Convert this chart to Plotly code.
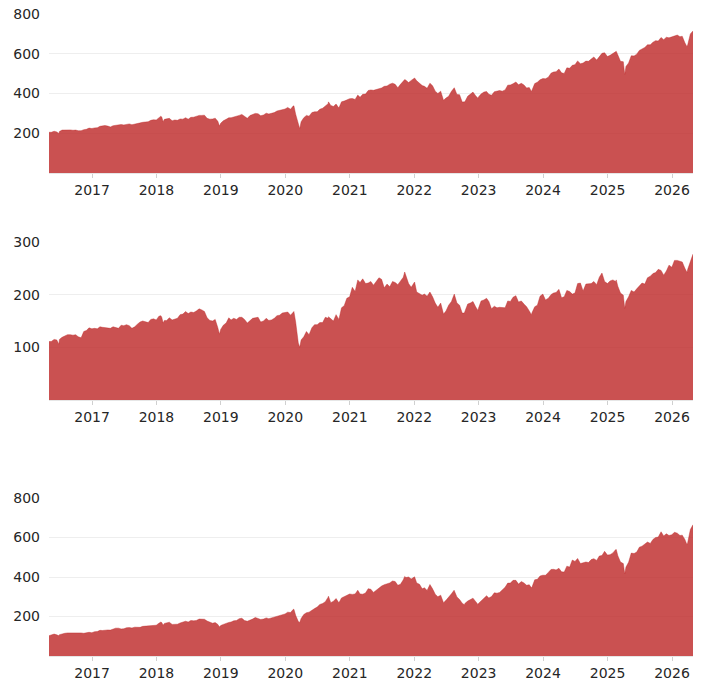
import pandas as pd
import plotly.graph_objects as go

# ---- data -------------------------------------------------------------
month_ends = pd.date_range("2016-05-31", periods=120, freq="ME")
mid_months = pd.date_range("2016-05-01", periods=120, freq="MS") + pd.Timedelta(days=14)

spy_monthly = [
    210, 209, 217, 217, 216, 213, 220, 224,
    228, 237, 236, 238, 241, 242, 247, 247, 252, 257, 265, 267,
    282, 271, 263, 265, 271, 271, 281, 290, 291, 271, 276, 250,
    270, 278, 283, 295, 275, 293, 298, 292, 297, 304, 315, 322,
    321, 296, 258, 290, 304, 308, 326, 349, 335, 327, 362, 374,
    370, 381, 397, 418, 420, 428, 438, 452, 429, 459, 455, 475,
    450, 436, 452, 412, 412, 377, 411, 395, 357, 386, 407, 382,
    407, 396, 409, 415, 418, 443, 458, 451, 428, 418, 457, 475,
    482, 508, 523, 501, 527, 545, 550, 563, 573, 568, 602, 586,
    601, 594, 560, 554, 589, 617, 632, 645, 666, 682, 683, 685,
    694, 688, 645, 715,
]
spy_mid = [
    205, 207, 216, 219, 215, 213, 218, 226,
    227, 235, 239, 232, 240, 244, 246, 243, 250, 255, 258, 268,
    280, 270, 275, 267, 272, 278, 280, 285, 290, 275, 272, 260,
    263, 278, 282, 290, 285, 289, 300, 288, 301, 300, 312, 318,
    330, 337, 240, 278, 286, 308, 321, 337, 340, 347, 358, 369,
    375, 392, 396, 415, 416, 424, 436, 447, 446, 446, 467, 466,
    464, 440, 426, 439, 400, 370, 386, 427, 394, 358, 399, 389,
    398, 410, 391, 412, 412, 442, 449, 444, 443, 430, 450, 469,
    474, 502, 510, 504, 529, 542, 564, 553, 562, 584, 585, 605,
    592, 610, 562, 536, 590, 598, 624, 645, 658, 664, 671, 680,
    692, 686, 655, 700,
]
iwm_monthly = [
    115, 115, 121, 124, 124, 118, 132, 135,
    135, 138, 137, 139, 136, 141, 141, 139, 148, 149, 153, 152,
    157, 151, 152, 155, 163, 164, 166, 173, 168, 151, 153, 134,
    146, 152, 153, 157, 146, 155, 157, 150, 151, 155, 161, 166,
    161, 148, 114, 130, 137, 143, 147, 155, 150, 153, 179, 196,
    206, 223, 221, 225, 226, 229, 220, 225, 219, 233, 221, 222,
    201, 201, 205, 184, 184, 169, 187, 184, 165, 182, 187, 174,
    190, 187, 178, 176, 175, 187, 198, 188, 177, 166, 180, 201,
    193, 203, 210, 196, 206, 203, 222, 220, 221, 219, 241, 221,
    228, 216, 199, 196, 205, 216, 220, 235, 242, 246, 245, 252,
    265, 262, 248, 277,
]
iwm_mid = [
    111, 114, 119, 124, 123, 120, 130, 137,
    136, 139, 137, 136, 137, 142, 143, 136, 144, 150, 147, 154,
    159, 151, 156, 154, 162, 168, 167, 169, 171, 156, 150, 137,
    142, 156, 155, 157, 153, 151, 156, 148, 155, 152, 160, 165,
    167, 168, 108, 120, 124, 143, 147, 157, 154, 162, 175, 193,
    214, 228, 230, 222, 218, 232, 213, 215, 223, 226, 237, 214,
    205, 199, 197, 196, 176, 166, 180, 198, 180, 168, 184, 177,
    188, 193, 173, 175, 176, 188, 195, 186, 182, 169, 177, 197,
    190, 200, 204, 194, 208, 201, 221, 207, 220, 225, 233, 225,
    226, 225, 203, 187, 208, 211, 222, 232, 240, 248, 237, 256,
    265, 263, 250, 262,
]
qqq_monthly = [
    111, 108, 115, 117, 119, 117, 117, 118,
    124, 129, 132, 136, 141, 138, 144, 146, 145, 152, 155, 156,
    169, 167, 160, 161, 171, 172, 178, 187, 186, 170, 169, 154,
    167, 172, 180, 191, 176, 187, 191, 187, 189, 197, 205, 213,
    220, 206, 190, 219, 233, 248, 266, 298, 277, 269, 300, 314,
    314, 314, 319, 338, 333, 354, 364, 380, 358, 386, 400, 398,
    363, 345, 362, 313, 308, 282, 315, 299, 267, 278, 293, 266,
    295, 294, 320, 322, 348, 369, 383, 377, 358, 350, 388, 409,
    423, 439, 444, 425, 450, 479, 468, 476, 488, 484, 509, 511,
    522, 508, 468, 475, 519, 551, 565, 570, 600, 629, 619, 614,
    622, 612, 575, 665,
]
qqq_mid = [
    107, 107, 113, 117, 117, 118, 115, 120,
    123, 130, 132, 131, 141, 137, 143, 142, 145, 150, 154, 157,
    166, 165, 171, 160, 167, 176, 180, 180, 185, 177, 166, 160,
    160, 170, 178, 189, 180, 180, 195, 185, 193, 193, 204, 210,
    222, 236, 175, 210, 222, 240, 261, 275, 270, 291, 294, 310,
    312, 333, 313, 341, 322, 346, 361, 370, 377, 363, 397, 390,
    370, 340, 332, 340, 300, 272, 296, 333, 286, 266, 287, 276,
    278, 305, 301, 318, 336, 369, 383, 364, 370, 361, 386, 405,
    409, 438, 436, 426, 455, 486, 494, 471, 473, 493, 506, 530,
    513, 538, 476, 450, 521, 526, 556, 577, 590, 602, 608, 610,
    626, 610, 590, 640,
]

event_dates = [
    "2016-05-02", "2016-06-27", "2018-01-26", "2018-02-08", "2018-12-24",
    "2020-02-19", "2020-03-23", "2020-09-02", "2021-11-08", "2022-01-03",
    "2022-06-16", "2022-08-16", "2022-10-12", "2022-12-28", "2023-10-27",
    "2025-02-19", "2025-04-08", "2026-03-27",
]
spy_events = [205, 199, 286, 258, 236, 338, 223, 358, 470, 478, 366, 429, 357, 376, 410, 612, 496, 635]
iwm_events = [111, 106, 160, 146, 125, 168, 100, 158, 243, 224, 163, 201, 165, 170, 162, 228, 174, 242]
qqq_events = [103, 103, 172, 156, 147, 237, 170, 303, 403, 401, 270, 330, 260, 261, 345, 539, 416, 563]

y_ranges = [[0, 800], [0, 300], [0, 800]]
y_ticks = [[200, 400, 600, 800], [100, 200, 300], [200, 400, 600, 800]]

# ---- build table -------------------------------------------------------
monthly = pd.DataFrame({"date": month_ends, "spy": spy_monthly, "iwm": iwm_monthly, "qqq": qqq_monthly})
mid = pd.DataFrame({"date": mid_months, "spy": spy_mid, "iwm": iwm_mid, "qqq": qqq_mid})
events = pd.DataFrame({"date": pd.to_datetime(event_dates), "spy": spy_events, "iwm": iwm_events, "qqq": qqq_events})
df = pd.concat([monthly, mid, events]).sort_values("date").reset_index(drop=True)

fill = "rgba(189,38,38,0.8)"
domains = [[0.7523, 1.0], [0.3988, 0.6449], [0.0, 0.2461]]
cols = ["spy", "iwm", "qqq"]

fig = go.Figure()
layout = {}
for i, col in enumerate(cols):
    sfx = "" if i == 0 else str(i + 1)
    fig.add_trace(go.Scatter(
        x=df["date"], y=df[col], mode="lines", fill="tozeroy",
        line=dict(color=fill, width=0.5), fillcolor=fill,
        xaxis="x" + sfx, yaxis="y" + sfx, showlegend=False,
        hoverinfo="x+y",
    ))
    layout["xaxis" + sfx] = dict(
        domain=[0, 1], anchor="y" + sfx,
        range=[df["date"].min(), df["date"].max()],
        tick0="2017-01-01", dtick="M12", tickformat="%Y",
        showgrid=False, showline=True, linecolor="#e6e6e6", linewidth=1,
        ticks="outside", ticklen=4, tickcolor="#d0d0d0",
        zeroline=False, automargin=False,
    )
    layout["yaxis" + sfx] = dict(
        domain=domains[i], anchor="x" + sfx,
        range=y_ranges[i], tickvals=y_ticks[i],
        showgrid=True, gridcolor="#eeeeee", gridwidth=1,
        zeroline=False, showline=False, ticks="", automargin=False,
        ticklabelstandoff=8,
    )

fig.update_layout(
    width=702, height=683,
    margin=dict(l=49, r=9, t=14, b=27),
    paper_bgcolor="white", plot_bgcolor="white",
    font=dict(family="DejaVu Sans, Verdana, sans-serif", size=14, color="#262626"),
    **layout,
)

fig.write_html(
    "out.html",
    config={"displayModeBar": False},
    post_script="document.body.style.margin='0px';document.body.style.overflow='hidden';",
)
